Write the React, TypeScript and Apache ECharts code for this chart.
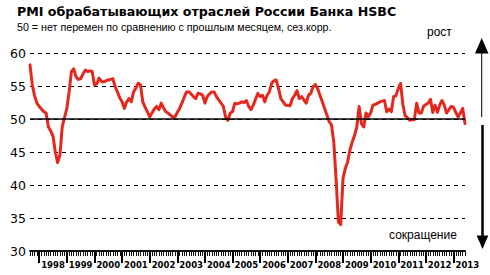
import React, { useEffect, useRef } from 'react';
import * as echarts from 'echarts';

// Monthly HSBC Russia Manufacturing PMI, Sep 1997 – Jun 2013
const startYear = 1997;
const startMonth = 9;
const pmi1997 = [58.2, 55.2, 53.5, 52.4];
const pmi1998 = [51.9, 51.5, 51.1, 50.9, 48.8, 48.2, 47.4, 45.0, 43.4, 44.5, 48.8, 50.2];
const pmi1999 = [51.6, 54.1, 57.2, 57.6, 56.4, 56.0, 56.1, 56.8, 57.4, 57.2, 57.3, 57.2];
const pmi2000 = [55.2, 55.3, 56.2, 55.7, 55.6, 55.8, 55.9, 56.0, 56.1, 54.9, 54.1, 53.2];
const pmi2001 = [52.6, 51.6, 52.6, 53.1, 52.6, 54.1, 54.7, 55.4, 55.2, 52.6, 51.8, 51.1];
const pmi2002 = [50.3, 50.9, 51.5, 51.9, 51.4, 52.4, 51.7, 51.1, 50.9, 50.6, 50.3, 50.3];
const pmi2003 = [51.0, 51.6, 52.4, 53.3, 54.1, 54.1, 53.8, 53.4, 53.1, 53.9, 53.8, 53.6];
const pmi2004 = [52.4, 53.4, 53.8, 54.1, 54.1, 53.4, 52.9, 52.4, 51.9, 50.3, 49.8, 50.9];
const pmi2005 = [51.1, 52.4, 52.3, 52.4, 52.6, 52.5, 52.8, 51.9, 51.4, 52.1, 53.0, 53.9];
const pmi2006 = [53.4, 53.6, 52.6, 53.6, 54.1, 55.4, 55.8, 55.9, 54.6, 53.1, 52.6, 52.1];
const pmi2007 = [52.1, 52.0, 53.1, 53.6, 54.3, 53.1, 53.4, 52.9, 52.4, 53.6, 53.9, 54.9];
const pmi2008 = [55.2, 54.6, 53.6, 52.6, 51.6, 50.6, 49.6, 49.1, 46.5, 40.8, 34.4, 34.0];
const pmi2009 = [41.0, 42.5, 43.5, 45.3, 46.5, 47.5, 48.8, 51.9, 49.3, 48.8, 50.9, 50.3];
const pmi2010 = [50.9, 52.1, 52.2, 52.4, 52.6, 52.7, 52.8, 51.1, 51.5, 51.1, 53.4, 53.5];
const pmi2011 = [54.6, 55.4, 52.2, 50.5, 50.2, 49.8, 49.9, 49.9, 52.4, 50.9, 50.9, 51.9];
const pmi2012 = [52.2, 52.4, 53.0, 51.0, 52.1, 51.0, 52.1, 52.8, 52.1, 50.9, 51.4, 51.9];
const pmi2013 = [51.8, 51.0, 50.3, 50.9, 51.6, 49.3];

const pmiValues = [
  ...pmi1997, ...pmi1998, ...pmi1999, ...pmi2000, ...pmi2001, ...pmi2002,
  ...pmi2003, ...pmi2004, ...pmi2005, ...pmi2006, ...pmi2007, ...pmi2008,
  ...pmi2009, ...pmi2010, ...pmi2011, ...pmi2012, ...pmi2013,
];

const months = pmiValues.map((_, i) => {
  const m = startMonth - 1 + i;
  return `${startYear + Math.floor(m / 12)}-${String((m % 12) + 1).padStart(2, '0')}`;
});

const yearLabels = [
  '1998', '1999', '2000', '2001', '2002', '2003', '2004', '2005',
  '2006', '2007', '2008', '2009', '2010', '2011', '2012', '2013',
];

const yMin = 30;
const yMax = 60;
const yStep = 5;
const baseline = 50;

const titleText = 'PMI обрабатывающих отраслей России Банка HSBC';
const subtitleText = '50 = нет перемен по сравнению с прошлым месяцем, сез.корр.';
const upText = 'рост';
const downText = 'сокращение';

const isYearStart = (i: number) => {
  const m = months[i];
  return !!m && m.endsWith('-01') && yearLabels.includes(m.slice(0, 4));
};

export default function App() {
  const ref = useRef<HTMLDivElement>(null);

  useEffect(() => {
    if (!ref.current) return;
    const chart = echarts.init(ref.current, undefined, { renderer: 'svg' });
    chart.setOption({
      animation: false,
      backgroundColor: '#fff',
      grid: { left: 30, right: 25, top: 53, bottom: 24, containLabel: false },
      xAxis: [
        {
          type: 'category',
          data: months,
          boundaryGap: false,
          axisLine: { show: true, lineStyle: { color: '#111', width: 2 } },
          axisTick: { show: true, interval: 0, length: 5, lineStyle: { color: '#111', width: 1 } },
          axisLabel: { show: false },
          splitLine: { show: false },
          z: 5,
        },
        {
          type: 'category',
          data: months,
          boundaryGap: false,
          position: 'bottom',
          axisLine: { show: false },
          axisTick: {
            show: true,
            interval: (i: number) => isYearStart(i),
            length: 12,
            lineStyle: { color: '#000', width: 2 },
          },
          axisLabel: {
            show: true,
            interval: (i: number) => isYearStart(i),
            formatter: (v: string) => yearLabels.find((y) => v.startsWith(y)) ?? '',
            align: 'left',
            margin: 9,
            padding: [0, 0, 0, 2],
            fontSize: 8.5,
            fontWeight: 'bold',
            fontFamily: 'DejaVu Sans',
            color: '#000',
          },
          splitLine: { show: false },
          z: 5,
        },
      ],
      yAxis: {
        type: 'value',
        min: yMin,
        max: yMax,
        interval: yStep,
        axisLine: { show: false },
        axisTick: { show: false },
        axisLabel: { fontSize: 12.5, fontFamily: 'DejaVu Sans', color: '#000', margin: 4 },
        splitLine: { show: true, lineStyle: { type: [4, 4], color: '#000', width: 1.2 } },
      },
      series: [
        {
          type: 'line',
          data: [],
          z: 1,
          markLine: {
            silent: true,
            symbol: 'none',
            label: { show: false },
            lineStyle: { color: '#000', type: 'solid', width: 1.5 },
            data: [{ yAxis: baseline }],
          },
        },
        {
          type: 'line',
          data: pmiValues,
          z: 3,
          showSymbol: false,
          symbol: 'none',
          smooth: false,
          lineStyle: { color: '#E5281E', width: 3, join: 'round', cap: 'round' },
        },
      ],
      graphic: [
        {
          type: 'text',
          left: 17,
          top: 4.5,
          style: { text: titleText, fontSize: 12.6, fontWeight: 'bold', fontFamily: 'DejaVu Sans', fill: '#000' },
        },
        {
          type: 'text',
          left: 17,
          top: 21,
          style: { text: subtitleText, fontSize: 10.7, fontFamily: 'Liberation Sans, Arial', fill: '#000' },
        },
        {
          type: 'text',
          left: 427,
          top: 26,
          style: { text: upText, fontSize: 12, fontFamily: 'Liberation Sans, Arial', fill: '#000' },
        },
        {
          type: 'text',
          left: 389,
          top: 229,
          style: { text: downText, fontSize: 12, fontFamily: 'Liberation Sans, Arial', fill: '#000' },
        },
        {
          type: 'polygon',
          shape: { points: [[475, 53.5], [488.5, 53.5], [481.7, 38]] },
          style: { fill: '#000' },
        },
        {
          type: 'line',
          shape: { x1: 481.7, y1: 53, x2: 481.7, y2: 117 },
          style: { stroke: '#000', lineWidth: 1 },
        },
        {
          type: 'line',
          shape: { x1: 482.5, y1: 125, x2: 482.5, y2: 237 },
          style: { stroke: '#000', lineWidth: 2.5 },
        },
        {
          type: 'polygon',
          shape: { points: [[476.7, 235.5], [488.3, 235.5], [482.5, 249]] },
          style: { fill: '#000' },
        },
      ],
    });
    return () => chart.dispose();
  }, []);

  return (
    <div
      ref={ref}
      style={{ position: 'fixed', left: 0, top: 0, width: 490, height: 275 }}
    />
  );
}
